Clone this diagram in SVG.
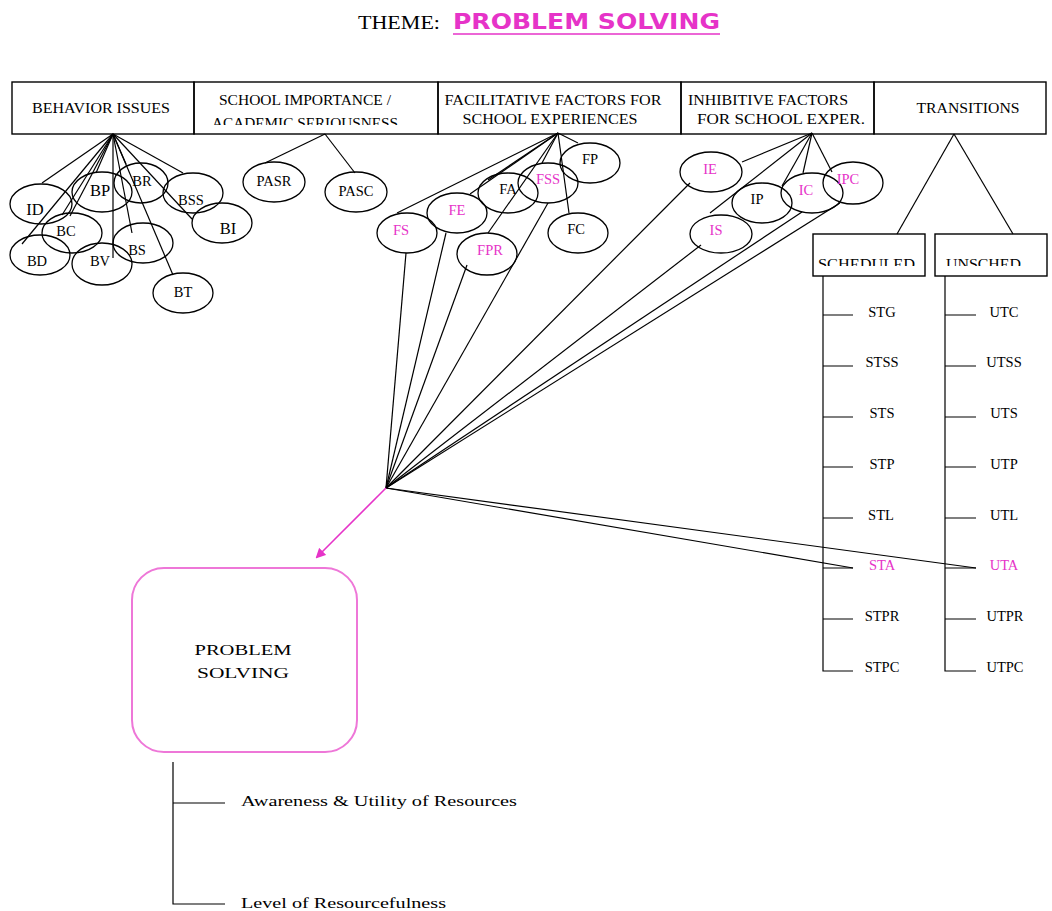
<svg xmlns="http://www.w3.org/2000/svg" width="1052" height="911" viewBox="0 0 1052 911">
<style>
  .bx{fill:none;stroke:#000;stroke-width:1.4}
  .el{fill:none;stroke:#000;stroke-width:1.3}
  .ln{stroke:#000;stroke-width:1.2;fill:none}
  .t{font-family:"Liberation Serif","Times New Roman",serif;font-size:14.5px;fill:#000}
  .h{font-family:"Liberation Serif","Times New Roman",serif;font-size:14.5px;fill:#000}
  .c{text-anchor:middle}
  .pk{fill:#e633c8}
  .big{font-size:16.5px}
</style>
<defs>
  <marker id="pa" markerWidth="10" markerHeight="10" refX="8" refY="5" orient="auto" markerUnits="userSpaceOnUse">
    <path d="M0,0 L10,5 L0,10 Z" fill="#e633c8"/>
  </marker>
  <clipPath id="clipH"><rect x="194" y="82" width="244" height="43"/></clipPath>
  <clipPath id="clipS"><rect x="813" y="234" width="234" height="32"/></clipPath>
</defs>
<rect width="1052" height="911" fill="#fff"/>

<g id="title">
  <text x="358" y="29" font-family="Liberation Serif,serif" font-size="19" textLength="82" lengthAdjust="spacingAndGlyphs" fill="#000">THEME:</text>
  <text x="453" y="29" font-family="DejaVu Sans,sans-serif" font-weight="bold" font-size="21" textLength="267" lengthAdjust="spacingAndGlyphs" fill="#e633c8">PROBLEM SOLVING</text>
  <line x1="453" y1="34" x2="720" y2="34" stroke="#e633c8" stroke-width="1.5"/>
</g>

<g id="header-behavior">
  <rect class="bx" x="12" y="82" width="182" height="52"/>
  <text class="h c" x="101" y="113" textLength="138" lengthAdjust="spacingAndGlyphs">BEHAVIOR ISSUES</text>
</g>
<g id="header-school">
  <rect class="bx" x="194" y="82" width="244" height="52"/>
  <text class="h c" x="305" y="105" textLength="172" lengthAdjust="spacingAndGlyphs">SCHOOL IMPORTANCE /</text>
  <text class="h c" x="305" y="128" textLength="186" lengthAdjust="spacingAndGlyphs" clip-path="url(#clipH)">ACADEMIC SERIOUSNESS</text>
</g>
<g id="header-facilitative">
  <rect class="bx" x="438" y="82" width="243" height="52"/>
  <text class="h c" x="553" y="105" textLength="217" lengthAdjust="spacingAndGlyphs">FACILITATIVE FACTORS FOR</text>
  <text class="h c" x="550" y="124" textLength="175" lengthAdjust="spacingAndGlyphs">SCHOOL EXPERIENCES</text>
</g>
<g id="header-inhibitive">
  <rect class="bx" x="681" y="82" width="193" height="52"/>
  <text class="h c" x="768" y="105" textLength="160" lengthAdjust="spacingAndGlyphs">INHIBITIVE FACTORS</text>
  <text class="h c" x="781" y="124" textLength="168" lengthAdjust="spacingAndGlyphs">FOR SCHOOL EXPER.</text>
</g>
<g id="header-transitions">
  <rect class="bx" x="874" y="82" width="172" height="52"/>
  <text class="h c" x="968" y="113" textLength="103" lengthAdjust="spacingAndGlyphs">TRANSITIONS</text>
</g>

<g id="connectors">
  <line class="ln" x1="113" y1="134" x2="42" y2="183"/>
  <line class="ln" x1="113" y1="134" x2="62" y2="215"/>
  <line class="ln" x1="113" y1="134" x2="70" y2="216"/>
  <line class="ln" x1="113" y1="134" x2="22" y2="244"/>
  <line class="ln" x1="113" y1="134" x2="96" y2="173"/>
  <line class="ln" x1="113" y1="134" x2="113" y2="258"/>
  <line class="ln" x1="113" y1="134" x2="126" y2="164"/>
  <line class="ln" x1="113" y1="134" x2="132" y2="233"/>
  <line class="ln" x1="113" y1="134" x2="173" y2="275"/>
  <line class="ln" x1="113" y1="134" x2="183" y2="173"/>
  <line class="ln" x1="113" y1="134" x2="192" y2="219"/>
  <line class="ln" x1="325" y1="134" x2="265" y2="163"/>
  <line class="ln" x1="325" y1="134" x2="355" y2="173"/>
  <line class="ln" x1="558" y1="133" x2="397" y2="213"/>
  <line class="ln" x1="558" y1="133" x2="470" y2="194"/>
  <line class="ln" x1="558" y1="133" x2="488" y2="180"/>
  <line class="ln" x1="558" y1="133" x2="488" y2="233"/>
  <line class="ln" x1="558" y1="133" x2="542" y2="163"/>
  <line class="ln" x1="558" y1="133" x2="569" y2="213"/>
  <line class="ln" x1="558" y1="133" x2="578" y2="143"/>
  <line class="ln" x1="812" y1="133" x2="742" y2="162"/>
  <line class="ln" x1="812" y1="133" x2="710" y2="213"/>
  <line class="ln" x1="812" y1="133" x2="782" y2="186"/>
  <line class="ln" x1="812" y1="133" x2="803" y2="173"/>
  <line class="ln" x1="812" y1="133" x2="832" y2="172"/>
  <line class="ln" x1="954" y1="134" x2="897" y2="234"/>
  <line class="ln" x1="954" y1="134" x2="1013" y2="234"/>
  <line class="ln" x1="386" y1="488" x2="406" y2="253"/>
  <line class="ln" x1="386" y1="488" x2="446" y2="233"/>
  <line class="ln" x1="386" y1="488" x2="467" y2="265"/>
  <line class="ln" x1="386" y1="488" x2="548" y2="203"/>
  <line class="ln" x1="386" y1="488" x2="690" y2="183"/>
  <line class="ln" x1="386" y1="488" x2="701" y2="245"/>
  <line class="ln" x1="386" y1="488" x2="802" y2="212"/>
  <line class="ln" x1="386" y1="488" x2="840" y2="203"/>
  <line class="ln" x1="386" y1="488" x2="853" y2="568"/>
  <line class="ln" x1="386" y1="488" x2="976" y2="568"/>
  <line x1="386" y1="488" x2="317" y2="557" stroke="#e633c8" stroke-width="1.6" marker-end="url(#pa)"/>
  <path class="ln" d="M823,276 V671 H853 M823,315 H853 M823,366 H853 M823,417 H853 M823,467 H853 M823,518 H853 M823,568 H853 M823,619 H853" stroke-width="1.4"/>
  <path class="ln" d="M945,276 V671 H976 M945,315 H976 M945,366 H976 M945,417 H976 M945,467 H976 M945,518 H976 M945,568 H976 M945,619 H976" stroke-width="1.4"/>
  <path class="ln" d="M173,762 V904 H225 M173,803 H225" stroke-width="1.4"/>
</g>

<g id="BI-ID"><ellipse class="el" cx="41" cy="204" rx="31" ry="20"/><text class="t c big" x="35" y="215">ID</text></g>
<g id="BI-BP"><ellipse class="el" cx="102" cy="192" rx="30" ry="20"/><text class="t c big" x="100" y="196">BP</text></g>
<g id="BI-BR"><ellipse class="el" cx="141" cy="183" rx="27" ry="20"/><text class="t c" x="142" y="186">BR</text></g>
<g id="BI-BSS"><ellipse class="el" cx="193" cy="193" rx="30" ry="20"/><text class="t c" x="191" y="205">BSS</text></g>
<g id="BI-BI"><ellipse class="el" cx="222" cy="223" rx="30" ry="20"/><text class="t c big" x="228" y="234">BI</text></g>
<g id="BI-BC"><ellipse class="el" cx="72" cy="233" rx="30" ry="20"/><text class="t c" x="66" y="236">BC</text></g>
<g id="BI-BD"><ellipse class="el" cx="40" cy="255" rx="30" ry="20"/><text class="t c" x="37" y="266">BD</text></g>
<g id="BI-BV"><ellipse class="el" cx="102" cy="264" rx="30" ry="21"/><text class="t c" x="100" y="266">BV</text></g>
<g id="BI-BS"><ellipse class="el" cx="143" cy="243" rx="30" ry="20"/><text class="t c" x="137" y="255">BS</text></g>
<g id="BI-BT"><ellipse class="el" cx="183" cy="293" rx="30" ry="20"/><text class="t c" x="183" y="297">BT</text></g>

<g id="SI-PASR"><ellipse class="el" cx="274" cy="182" rx="31" ry="20"/><text class="t c" x="274" y="186">PASR</text></g>
<g id="SI-PASC"><ellipse class="el" cx="356" cy="192" rx="31" ry="20"/><text class="t c" x="356" y="196">PASC</text></g>

<g id="FF-FP"><ellipse class="el" cx="590" cy="163" rx="30" ry="20"/><text class="t c" x="590" y="164">FP</text></g>
<g id="FF-FSS"><ellipse class="el" cx="548" cy="183" rx="30" ry="20"/><text class="t c pk" x="548" y="184">FSS</text></g>
<g id="FF-FA"><ellipse class="el" cx="508" cy="193" rx="30" ry="20"/><text class="t c" x="508" y="194">FA</text></g>
<g id="FF-FE"><ellipse class="el" cx="457" cy="213" rx="30" ry="20"/><text class="t c pk" x="457" y="215">FE</text></g>
<g id="FF-FS"><ellipse class="el" cx="407" cy="233" rx="30" ry="20"/><text class="t c pk" x="401" y="235">FS</text></g>
<g id="FF-FPR"><ellipse class="el" cx="487" cy="254" rx="30" ry="21"/><text class="t c pk" x="490" y="255">FPR</text></g>
<g id="FF-FC"><ellipse class="el" cx="578" cy="233" rx="30" ry="20"/><text class="t c" x="576" y="234">FC</text></g>

<g id="IF-IE"><ellipse class="el" cx="711" cy="172" rx="31" ry="20"/><text class="t c pk" x="710" y="174">IE</text></g>
<g id="IF-IP"><ellipse class="el" cx="762" cy="203" rx="30" ry="20"/><text class="t c" x="757" y="204">IP</text></g>
<g id="IF-IS"><ellipse class="el" cx="721" cy="234" rx="31" ry="19"/><text class="t c pk" x="716" y="235">IS</text></g>
<g id="IF-IC"><ellipse class="el" cx="812" cy="193" rx="31" ry="20"/><text class="t c pk" x="806" y="195">IC</text></g>
<g id="IF-IPC"><ellipse class="el" cx="853" cy="183" rx="30" ry="21"/><text class="t c pk" x="848" y="184">IPC</text></g>

<g id="TR-SCHEDULED">
  <rect class="bx" x="813" y="234" width="112" height="42"/>
  <text class="h" x="818" y="269" textLength="97" lengthAdjust="spacingAndGlyphs" clip-path="url(#clipS)">SCHEDULED</text>
</g>
<g id="TR-UNSCHED">
  <rect class="bx" x="935" y="234" width="112" height="42"/>
  <text class="h" x="946" y="269" textLength="75" lengthAdjust="spacingAndGlyphs" clip-path="url(#clipS)">UNSCHED</text>
</g>

<g id="S-items">
  <text class="t c" x="882" y="317">STG</text>
  <text class="t c" x="882" y="367">STSS</text>
  <text class="t c" x="882" y="418">STS</text>
  <text class="t c" x="882" y="469">STP</text>
  <text class="t c" x="881" y="520">STL</text>
  <text class="t c pk" x="882" y="570">STA</text>
  <text class="t c" x="882" y="621">STPR</text>
  <text class="t c" x="882" y="672">STPC</text>
</g>
<g id="U-items">
  <text class="t c" x="1004" y="317">UTC</text>
  <text class="t c" x="1004" y="367">UTSS</text>
  <text class="t c" x="1004" y="418">UTS</text>
  <text class="t c" x="1004" y="469">UTP</text>
  <text class="t c" x="1004" y="520">UTL</text>
  <text class="t c pk" x="1004" y="570">UTA</text>
  <text class="t c" x="1005" y="621">UTPR</text>
  <text class="t c" x="1005" y="672">UTPC</text>
</g>

<g id="problem-solving">
  <rect x="132" y="568" width="225" height="184" rx="32" ry="32" fill="none" stroke="#ee77d8" stroke-width="2"/>
  <text class="t c" x="243" y="655" font-size="20" textLength="97" lengthAdjust="spacingAndGlyphs">PROBLEM</text>
  <text class="t c" x="243" y="678" font-size="20" textLength="92" lengthAdjust="spacingAndGlyphs">SOLVING</text>
</g>
<g id="ps-awareness"><text class="t" x="241" y="806" font-size="18" textLength="276" lengthAdjust="spacingAndGlyphs">Awareness &amp; Utility of Resources</text></g>
<g id="ps-level"><text class="t" x="241" y="908" font-size="18" textLength="205" lengthAdjust="spacingAndGlyphs">Level of Resourcefulness</text></g>
</svg>
